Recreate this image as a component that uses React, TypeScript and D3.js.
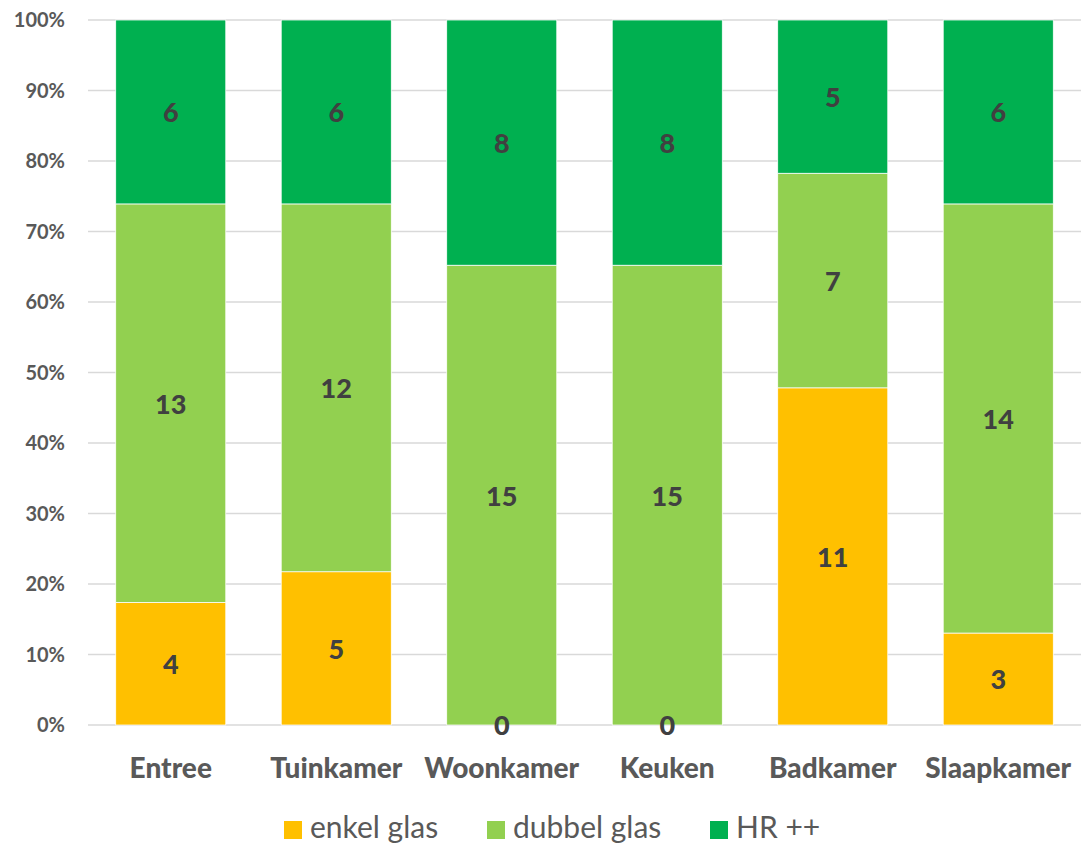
import React, { useEffect, useRef } from "react";
import * as d3 from "d3";

const rooms = ["Entree", "Tuinkamer", "Woonkamer", "Keuken", "Badkamer", "Slaapkamer"];
const enkelGlas = [4, 5, 0, 0, 11, 3];
const dubbelGlas = [13, 12, 15, 15, 7, 14];
const hrPlusPlus = [6, 6, 8, 8, 5, 6];
const seriesNames = ["enkel glas", "dubbel glas", "HR ++"];
const colors = ["#FFC000", "#92D050", "#00B050"];
const yTicks = [0, 0.1, 0.2, 0.3, 0.4, 0.5, 0.6, 0.7, 0.8, 0.9, 1];

export default function App() {
  const svgRef = useRef<SVGSVGElement>(null);

  useEffect(() => {
    const width = 1081;
    const height = 844;
    const font = "Lato, 'Open Sans', sans-serif";

    const svg = d3.select(svgRef.current).attr("width", width).attr("height", height);
    svg.selectAll("*").remove();

    const rows = rooms.map((room, i) => ({
      room,
      "enkel glas": enkelGlas[i],
      "dubbel glas": dubbelGlas[i],
      "HR ++": hrPlusPlus[i],
    }));

    const stacked = d3.stack<any>().keys(seriesNames).offset(d3.stackOffsetExpand)(rows);

    const x = d3.scaleBand().domain(rooms).range([88, 1081]).paddingInner(0.335).paddingOuter(0.1675);
    const y = d3.scaleLinear().domain([0, 1]).range([725, 20]);

    // gridlines
    svg
      .append("g")
      .selectAll("line")
      .data(yTicks)
      .enter()
      .append("line")
      .attr("x1", 88)
      .attr("x2", 1081)
      .attr("y1", (d) => y(d))
      .attr("y2", (d) => y(d))
      .attr("stroke", "#D9D9D9")
      .attr("stroke-width", 1.5);

    // y tick labels
    svg
      .append("g")
      .selectAll("text")
      .data(yTicks)
      .enter()
      .append("text")
      .attr("x", 65)
      .attr("y", (d) => y(d))
      .attr("dy", "0.35em")
      .attr("text-anchor", "end")
      .attr("font-family", font)
      .attr("font-weight", "bold")
      .attr("font-size", 20)
      .attr("fill", "#595959")
      .text((d) => d3.format(".0%")(d));

    // bars
    const layers = svg
      .append("g")
      .selectAll("g")
      .data(stacked)
      .enter()
      .append("g")
      .attr("fill", (_, i) => colors[i]);

    layers
      .selectAll("rect")
      .data((d) => d)
      .enter()
      .append("rect")
      .attr("x", (d: any) => x(d.data.room)!)
      .attr("width", x.bandwidth())
      .attr("y", (d) => y(d[1]))
      .attr("height", (d) => y(d[0]) - y(d[1]))
      .attr("stroke", "#ffffff")
      .attr("stroke-width", 0.75);

    // data labels
    stacked.forEach((layer) => {
      svg
        .append("g")
        .selectAll("text")
        .data(layer)
        .enter()
        .append("text")
        .attr("x", (d: any) => x(d.data.room)! + x.bandwidth() / 2)
        .attr("y", (d) => y((d[0] + d[1]) / 2) + 1)
        .attr("dy", "0.35em")
        .attr("text-anchor", "middle")
        .attr("font-family", font)
        .attr("font-weight", 900)
        .attr("font-size", 27)
        .attr("fill", "#404040")
        .text((d: any) => d.data[layer.key]);
    });

    // category labels
    svg
      .append("g")
      .selectAll("text")
      .data(rooms)
      .enter()
      .append("text")
      .attr("x", (d) => x(d)! + x.bandwidth() / 2)
      .attr("y", 768)
      .attr("dy", "0.35em")
      .attr("text-anchor", "middle")
      .attr("font-family", font)
      .attr("font-weight", 900)
      .attr("font-size", 28)
      .attr("fill", "#595959")
      .text((d) => d);

    // legend
    const legendX = [284, 487, 710];
    const legend = svg
      .append("g")
      .selectAll("g")
      .data(seriesNames)
      .enter()
      .append("g")
      .attr("transform", (_, i) => `translate(${legendX[i]}, 821)`);

    legend
      .append("rect")
      .attr("x", 0)
      .attr("y", 0)
      .attr("width", 18)
      .attr("height", 18)
      .attr("fill", (_, i) => colors[i]);

    legend
      .append("text")
      .attr("x", 26)
      .attr("y", 17)
      .attr("font-family", font)
      .attr("font-size", 30)
      .attr("fill", "#595959")
      .text((d) => d);
  }, []);

  return (
    <div style={{ position: "absolute", left: 0, top: 0 }}>
      <svg ref={svgRef}></svg>
    </div>
  );
}
